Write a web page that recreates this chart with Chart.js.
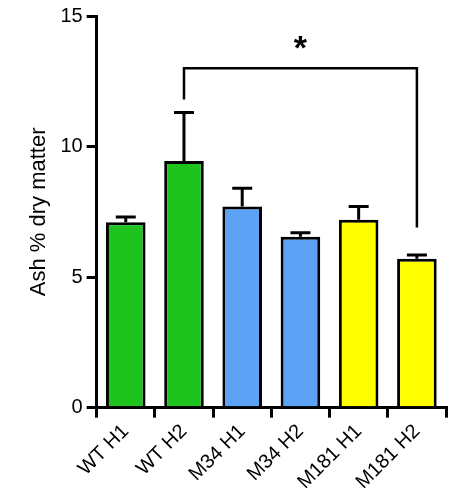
<!DOCTYPE html>
<html>
<head>
<meta charset="utf-8">
<script src="https://cdn.jsdelivr.net/npm/chart.js@4"></script>
<style>
  html, body { margin: 0; background: #fff; }
  #wrap { width: 468px; height: 500px; }
</style>
</head>
<body>
<div id="wrap"><canvas id="chart"></canvas></div>
<script>
// ── Data ─────────────────────────────────────────────────────────────────────
const CATEGORIES = ['WT H1', 'WT H2', 'M34 H1', 'M34 H2', 'M181 H1', 'M181 H2'];
const MEANS      = [7.1, 9.45, 7.7, 6.55, 7.2, 5.7];
const ERRORS     = [0.2, 1.85, 0.7, 0.15, 0.5, 0.15];
const COLORS     = ['#1ec31e', '#1ec31e', '#5ca3f5', '#5ca3f5', '#ffff00', '#ffff00'];
const Y_TICKS    = [0, 5, 10, 15];
// significance bracket: from bar 1 to bar 5, top at 13, legs down to 11.8 / 6.9
const BRACKET    = { from: 1, to: 5, top: 13.0, leftEnd: 11.8, rightEnd: 6.9, label: '*' };

const FONT = 'Arial, "Liberation Sans", sans-serif';

// error bars (upper only) and the bracket, placed via the chart scales
const extras = {
    id: 'extras',
    afterDatasetsDraw(chart) {
        const { ctx, scales: { y } } = chart;
        const meta = chart.getDatasetMeta(0);
        ctx.save();
        ctx.strokeStyle = '#000';
        ctx.lineWidth = 3;
        meta.data.forEach((bar, i) => {
            const cx = bar.x;
            const yTop = y.getPixelForValue(MEANS[i] + ERRORS[i]);
            const yMid = y.getPixelForValue(MEANS[i]);
            ctx.beginPath();
            ctx.moveTo(cx, yMid);
            ctx.lineTo(cx, yTop);
            ctx.moveTo(cx - 10, yTop);
            ctx.lineTo(cx + 10, yTop);
            ctx.stroke();
        });
        const x1 = meta.data[BRACKET.from].x, x2 = meta.data[BRACKET.to].x;
        const yt = y.getPixelForValue(BRACKET.top);
        ctx.lineWidth = 2.5;
        ctx.beginPath();
        ctx.moveTo(x1, y.getPixelForValue(BRACKET.leftEnd));
        ctx.lineTo(x1, yt);
        ctx.lineTo(x2, yt);
        ctx.lineTo(x2, y.getPixelForValue(BRACKET.rightEnd));
        ctx.stroke();
        ctx.fillStyle = '#000';
        ctx.font = 'bold 34px ' + FONT;
        ctx.textAlign = 'center';
        ctx.textBaseline = 'bottom';
        ctx.fillText(BRACKET.label, (x1 + x2) / 2, yt - 2);
        ctx.restore();
    },
};

new Chart(document.getElementById('chart'), {
    type: 'bar',
    data: {
        labels: CATEGORIES,
        datasets: [{
            data: MEANS,
            backgroundColor: COLORS,
            borderColor: '#000',
            borderWidth: 3,
            borderSkipped: 'bottom',
            categoryPercentage: 0.68,
            barPercentage: 1,
        }],
    },
    options: {
        responsive: true,
        maintainAspectRatio: false,
        animation: false,
        layout: { padding: { top: 16, right: 22, left: 22, bottom: 4 } },
        plugins: { legend: { display: false }, tooltip: { enabled: false } },
        scales: {
            x: {
                grid: { display: true, drawOnChartArea: false, tickLength: 10, color: '#000', lineWidth: 3 },
                border: { color: '#000', width: 3 },
                ticks: { color: '#000', font: { family: FONT, size: 20 }, maxRotation: 45, minRotation: 45, padding: 2 },
            },
            y: {
                min: 0, max: 15,
                afterBuildTicks: (axis) => { axis.ticks = Y_TICKS.map(v => ({ value: v })); },
                grid: { display: true, drawOnChartArea: false, tickLength: 10, color: '#000', lineWidth: 3 },
                border: { color: '#000', width: 3 },
                ticks: { color: '#000', font: { family: FONT, size: 20 }, padding: 4 },
                title: { display: true, text: 'Ash % dry matter', color: '#000', font: { family: FONT, size: 22 } },
            },
        },
    },
    plugins: [extras],
});
</script>
</body>
</html>
